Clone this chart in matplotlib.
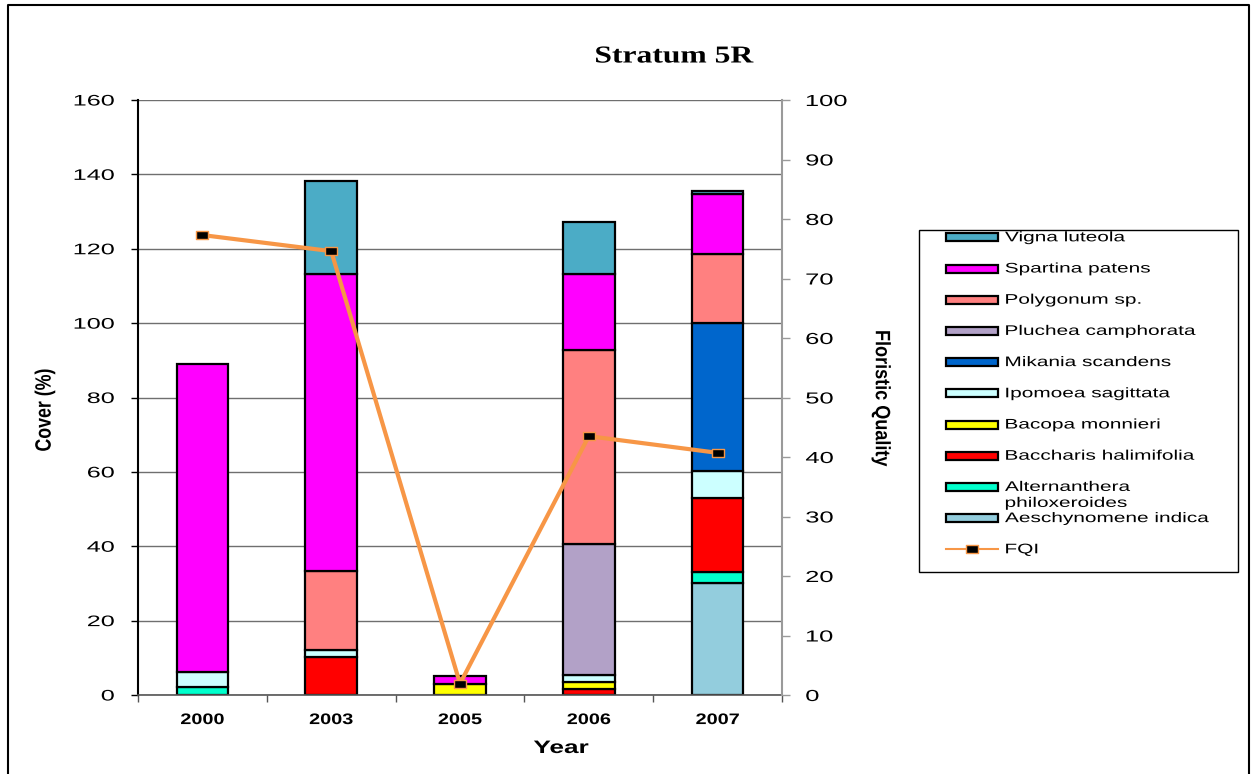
import numpy as np
import matplotlib
matplotlib.use("Agg")
import matplotlib.pyplot as plt
from matplotlib.patheffects import AbstractPathEffect
from matplotlib.transforms import Affine2D
from matplotlib.patches import Rectangle
from matplotlib.lines import Line2D
from matplotlib.path import Path

plt.rcParams['font.family'] = ['Liberation Sans', 'DejaVu Sans']

# ---- data -------------------------------------------------------------
years = ["2000", "2003", "2005", "2006", "2007"]

# stacking order, bottom to top
species = ["Aeschynomene indica", "Alternanthera\nphiloxeroides",
           "Baccharis halimifolia", "Bacopa monnieri", "Ipomoea sagittata",
           "Mikania scandens", "Pluchea camphorata", "Polygonum sp.",
           "Spartina patens", "Vigna luteola"]
colors = ["#93CDDD", "#00FFCC", "#FF0000", "#FFFF00", "#CCFFFF",
          "#0066CC", "#B2A1C7", "#FF8080", "#FF00FF", "#4BACC6"]

aeschynomene = [0, 0, 0, 0, 30.2]
alternanthera = [2.2, 0, 0, 0, 2.8]
baccharis = [0, 10.3, 0, 1.6, 20.0]
bacopa = [0, 0, 3.0, 2.0, 0]
ipomoea = [4.0, 1.8, 0, 1.8, 7.2]
mikania = [0, 0, 0, 0, 39.9]
pluchea = [0, 0, 0, 35.1, 0]
polygonum = [0, 21.3, 0, 52.3, 18.6]
spartina = [82.8, 79.8, 2.2, 20.4, 16.0]
vigna = [0, 25.0, 0, 14.0, 0.8]
cover = [aeschynomene, alternanthera, baccharis, bacopa, ipomoea,
         mikania, pluchea, polygonum, spartina, vigna]

fqi = [77.3, 74.6, 1.9, 43.5, 40.7]


# ---- horizontal text widening ----------------------------------------
class Stretch(AbstractPathEffect):
    """Scale a text path along its own axes around an anchor."""

    def __init__(self, sx=1.0, sy=1.0, anchor="center"):
        super().__init__()
        self.sx, self.sy, self.anchor = sx, sy, anchor

    def draw_path(self, renderer, gc, tpath, affine, rgbFace=None):
        ext = tpath.get_extents()
        if self.anchor == "left":
            cx = ext.x0
        elif self.anchor == "right":
            cx = ext.x1
        else:
            cx = 0.5 * (ext.x0 + ext.x1)
        cy = 0.5 * (ext.y0 + ext.y1)
        t = (Affine2D().translate(-cx, -cy).scale(self.sx, self.sy)
             .translate(cx, cy)) + affine
        renderer.draw_path(gc, tpath, t, rgbFace)


def st(sx=1.0, anchor="center", sy=1.0):
    return [Stretch(sx, sy, anchor)]


W, H = 1254, 774
fig = plt.figure(figsize=(W / 100, H / 100), dpi=100)
fig.patch.set_facecolor("white")

ax = fig.add_axes([138 / W, 1 - 695 / H, 644 / W, 595 / H])
x = np.arange(len(years))

# stacked cover bars
bottom = np.zeros(len(years))
for vals, col in zip(cover, colors):
    v = np.asarray(vals, dtype=float)
    m = v > 0
    ax.bar(x[m], v[m], width=0.4, bottom=bottom[m], color=col,
           edgecolor="black", linewidth=1.6, zorder=2)
    bottom += v

ax.set_xlim(-0.5, len(years) - 0.5)
ax.set_ylim(0, 160)
ax.set_yticks(np.arange(0, 161, 20))
ax.yaxis.grid(True, color="#6f6f6f", linewidth=1.0)
ax.set_axisbelow(True)

ax.set_xticks(np.arange(-0.5, len(years), 1.0))
ax.set_xticklabels([])
ax.set_xticks(x, minor=True)
ax.set_xticklabels(years, minor=True)
ax.tick_params(axis="x", which="major", length=5, direction="out",
               color="#555555", width=1)
ax.tick_params(axis="x", which="minor", length=0, pad=13)
for t in ax.xaxis.get_minor_ticks():
    t.label1.set_fontsize(11)
    t.label1.set_fontweight("bold")
    t.label1.set_path_effects(st(1.3))

ax.tick_params(axis="y", length=5, width=1, pad=12, color="black")
for t in ax.yaxis.get_major_ticks():
    t.label1.set_fontsize(11)
    t.label1.set_path_effects(st(1.65, "right"))

for s in ("top", "right"):
    ax.spines[s].set_visible(False)
ax.spines["left"].set_color("black")
ax.spines["left"].set_linewidth(1.5)
ax.spines["bottom"].set_color("#555555")
ax.spines["bottom"].set_linewidth(1.2)

# floristic quality on the secondary axis
ax2 = ax.twinx()
ax2.set_ylim(0, 100)
ax2.set_yticks(np.arange(0, 101, 10))
for s in ("top", "left", "bottom"):
    ax2.spines[s].set_visible(False)
ax2.spines["right"].set_color("#9a9a9a")
ax2.spines["right"].set_linewidth(1.5)
ax2.tick_params(axis="y", length=6, width=1, pad=11, color="#9a9a9a")
for t in ax2.yaxis.get_major_ticks():
    t.label2.set_fontsize(11.5)
    t.label2.set_path_effects(st(1.6, "left"))

rect_marker = Path([(-1.5, -1), (1.5, -1), (1.5, 1), (-1.5, 1), (-1.5, -1)],
                   closed=True)
ax2.plot(x, fqi, color="#F79646", linewidth=3, marker=rect_marker,
         markersize=8.5, markerfacecolor="black", markeredgecolor="#F79646",
         markeredgewidth=1, zorder=3)

# titles and axis names
fig.text(674 / W, 1 - 57 / H, "Stratum 5R", ha="center", va="center",
         family=["Liberation Serif", "DejaVu Serif"], fontweight="bold",
         fontsize=17.5, path_effects=st(1.3))
fig.text(561 / W, 1 - 753 / H, "Year", ha="center", va="baseline",
         fontsize=13, fontweight="bold", path_effects=st(1.45))
fig.text(45 / W, 1 - 410 / H, "Cover (%)", ha="center", va="center",
         rotation=90, fontsize=12.8, fontweight="bold",
         path_effects=st(1.0, "center", 1.25))
fig.text(881 / W, 1 - 398 / H, "Floristic Quality", ha="center",
         va="center", rotation=-90, fontsize=13, fontweight="bold",
         path_effects=st(1.0, "center", 1.15))

# overlay in pixel units for the outer frame and the legend
lax = fig.add_axes([0, 0, 1, 1], zorder=5)
lax.set_xlim(0, W)
lax.set_ylim(H, 0)
lax.axis("off")

lax.add_line(Line2D([8, 8, 1249, 1249], [H + 5, 5, 5, H + 5],
                    color="black", linewidth=1.5))

lax.add_patch(Rectangle((919, 230), 319, 342, facecolor="white",
                        edgecolor="black", linewidth=1.0))
row0, step = 237.3, 31.2
hx0, hw, hh, tx = 946, 52, 8, 1005
entries = list(zip(species, colors))[::-1]
for i, (name, col) in enumerate(entries):
    yc = row0 + step * i
    lax.add_patch(Rectangle((hx0, yc - hh / 2), hw, hh, facecolor=col,
                            edgecolor="black", linewidth=1.6))
    for j, line in enumerate(name.split("\n")):
        lax.text(tx, yc + 16 * j, line, ha="left", va="center",
                 fontsize=10, path_effects=st(1.5, "left"))
yc = row0 + step * len(entries)
lax.add_line(Line2D([hx0, hx0 + hw], [yc, yc], color="#F79646",
                    linewidth=1.5))
lax.add_line(Line2D([hx0 + hw / 2], [yc], marker=rect_marker, markersize=8.5,
                    markerfacecolor="black", markeredgecolor="#F79646",
                    markeredgewidth=1, linestyle="none"))
lax.text(tx, yc, "FQI", ha="left", va="center", fontsize=10,
         path_effects=st(1.5, "left"))

fig.savefig("out.png", dpi=100, facecolor="white")
